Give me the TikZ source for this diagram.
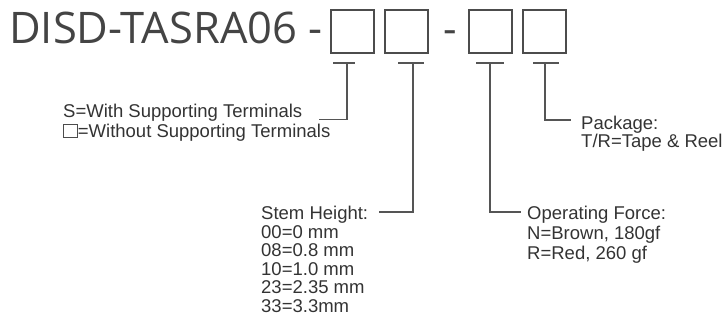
\documentclass[tikz,border=0pt]{standalone}
\usepackage{fontspec}
\setmainfont{Liberation Sans}
\newfontfamily\titlefont{Open Sans}
\begin{document}
\begin{tikzpicture}[x=1pt,y=-1pt,
  codebox/.style={draw=boxgray,line width=2pt,minimum width=43pt,minimum height=43pt,inner sep=0pt},
  tick/.style={draw=linegray,line width=1.2pt},
  lead/.style={draw=linegray,line width=1.2pt},
  label/.style={anchor=base west,inner sep=0pt,text=txtgray,align=left}]
\definecolor{boxgray}{HTML}{4C4C4C}
\definecolor{linegray}{HTML}{555555}
\definecolor{txtgray}{HTML}{333333}
\definecolor{titlegray}{HTML}{444444}
\useasboundingbox (0,0) rectangle (724,320);
% title
\node[anchor=base west,inner sep=0pt,text=titlegray,font=\titlefont\fontsize{43.5}{43.5}\selectfont] (title) at (9,43.3) {DISD-TASRA06 -};
\node[codebox] (b1) at (352,31.5) {};
\node[codebox] (b2) at (406.5,31.5) {};
\node[inner sep=0pt,text=titlegray,font=\titlefont\fontsize{42}{42}\selectfont,anchor=base] (dash) at (450,43.3) {-};
\node[codebox] (b3) at (490.5,31.5) {};
\node[codebox] (b4) at (544.5,31.5) {};
% ticks
\coordinate (t1) at (347,63);
\coordinate (t2) at (413,63);
\coordinate (t3) at (490,63);
\coordinate (t4) at (545,63);
\draw[tick] (333,63) -- (355,63);
\draw[tick] (398,63) -- (424,63);
\draw[tick] (476,63) -- (504,63);
\draw[tick] (533,63) -- (559,63);
% labels (anchor = baseline of last line)
\node[label,font=\fontsize{18.5}{19.5}\selectfont] (sup) at (63,137.5)
  {S=With Supporting Terminals\\\tikz[baseline=0pt]\draw[boxgray,line width=0.7pt] (0.5pt,0) rectangle (14.5pt,13pt);=Without Supporting Terminals};
\node[label,font=\fontsize{18.5}{18.6}\selectfont] (stem) at (261,312.5)
  {Stem Height:\\00=0 mm\\08=0.8 mm\\10=1.0 mm\\23=2.35 mm\\33=3.3mm};
\node[label,font=\fontsize{18.5}{20}\selectfont] (force) at (527,259.5)
  {Operating Force:\\N=Brown, 180gf\\R=Red, 260 gf};
\node[label,font=\fontsize{18.5}{18.6}\selectfont] (pkg) at (581,148)
  {Package:\\T/R=Tape \& Reel};
% leader end points
\coordinate (e1) at (319,119.5);
\coordinate (e2) at (379,212);
\coordinate (e3) at (521,212);
\coordinate (e4) at (571,120);
\draw[lead] (t1) |- (e1);
\draw[lead] (t2) |- (e2);
\draw[lead] (t3) |- (e3);
\draw[lead] (t4) |- (e4);
\end{tikzpicture}
\end{document}
